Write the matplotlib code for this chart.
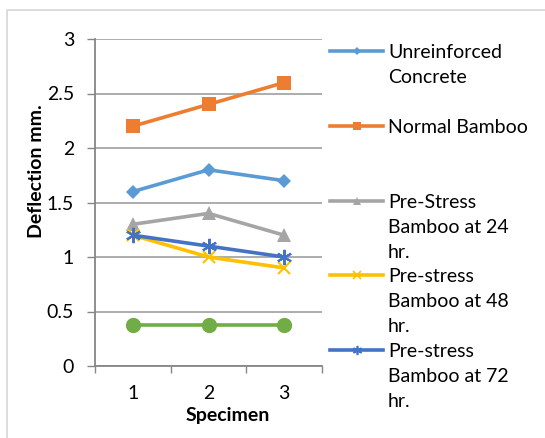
import matplotlib
matplotlib.use("Agg")
import matplotlib.pyplot as plt
from matplotlib.lines import Line2D

# chart data
specimens = [1, 2, 3]
series_names = ["Unreinforced\nConcrete", "Normal Bamboo", "Pre-Stress\nBamboo at 24\nhr.",
                "Pre-stress\nBamboo at 48\nhr.", "Pre-stress\nBamboo at 72\nhr.", "Reinforced Concrete"]
unreinforced = [1.6, 1.8, 1.7]
normal_bamboo = [2.2, 2.4, 2.6]
prestress_24 = [1.3, 1.4, 1.2]
prestress_48 = [1.2, 1.0, 0.9]
prestress_72 = [1.2, 1.1, 1.0]
reinforced = [0.38, 0.38, 0.38]
y_ticks = [0, 0.5, 1, 1.5, 2, 2.5, 3]

colors = ["#5B9BD5", "#ED7D31", "#A5A5A5", "#FFC000", "#4472C4", "#70AD47"]
markers = ["D", "s", "^", "x", (6, 2, 0), "o"]
msizes = [7, 10, 10, 9, 11, 11]
values = [unreinforced, normal_bamboo, prestress_24, prestress_48, prestress_72, reinforced]

plt.rcParams["font.family"] = ["Lato", "DejaVu Sans"]
W, H = 545, 438
fig = plt.figure(figsize=(W / 100, H / 100), dpi=100)
ax = fig.add_axes([95 / W, 1 - 366 / H, (322 - 95) / W, (366 - 39) / H])

# draw in reverse so the first series sits on top like excel
order = [5, 3, 4, 2, 0, 1]
for i in order:
    ax.plot(specimens, values[i], color=colors[i], lw=2.6, marker=markers[i],
            ms=msizes[i], mew=1.5 if i in (3, 4) else 0, zorder=3 + i)

ax.set_xlim(0.5, 3.5)
ax.set_ylim(0, 3)
ax.set_yticks(y_ticks)
ax.set_yticklabels(["0", "0.5", "1", "1.5", "2", "2.5", "3"])
ax.set_xticks(specimens)
ax.set_xticks([0.5, 1.5, 2.5, 3.5], minor=True)
ax.tick_params(axis="x", which="major", length=0, pad=14, labelsize=14)
ax.tick_params(axis="x", which="minor", length=5, color="#868686", width=1)
ax.tick_params(axis="y", length=6, color="#868686", width=1, pad=9, labelsize=14)
ax.grid(axis="y", color="#A6A6A6", lw=1.3)
ax.set_axisbelow(True)
for s in ["top", "right"]:
    ax.spines[s].set_visible(False)
for s in ["left", "bottom"]:
    ax.spines[s].set_color("#868686")
    ax.spines[s].set_linewidth(1.3)

fig.text(36 / W, 1 - 171 / H, "Deflection mm.", rotation=90, ha="center", va="center",
         fontsize=14, fontweight="bold")
fig.text(228 / W, 1 - 415 / H, "Specimen", ha="center", va="center",
         fontsize=14, fontweight="bold")

# legend, drawn by hand to match the excel wrapping
leg_y = [51, 126, 201, 275, 350]
for i, y in enumerate(leg_y):
    fy = 1 - y / H
    fig.add_artist(Line2D([330 / W, 383 / W], [fy, fy], color=colors[i], lw=2.6,
                          transform=fig.transFigure))
    fig.add_artist(Line2D([356.5 / W], [fy], color=colors[i], marker=markers[i],
                          ms=msizes[i] * 0.6, mew=1.2 if i in (3, 4) else 0,
                          transform=fig.transFigure))
    for k, part in enumerate(series_names[i].split("\n")):
        fig.text(388 / W, 1 - (y + 7 + 25 * k) / H, part, ha="left", va="baseline",
                 fontsize=14)

# chart area border
fig.add_artist(Line2D([7 / W, 7 / W, 1], [0, 1 - 10 / H, 1 - 10 / H], color="#D9D9D9",
                      lw=1.3, transform=fig.transFigure))

fig.savefig("out.png", dpi=100)
